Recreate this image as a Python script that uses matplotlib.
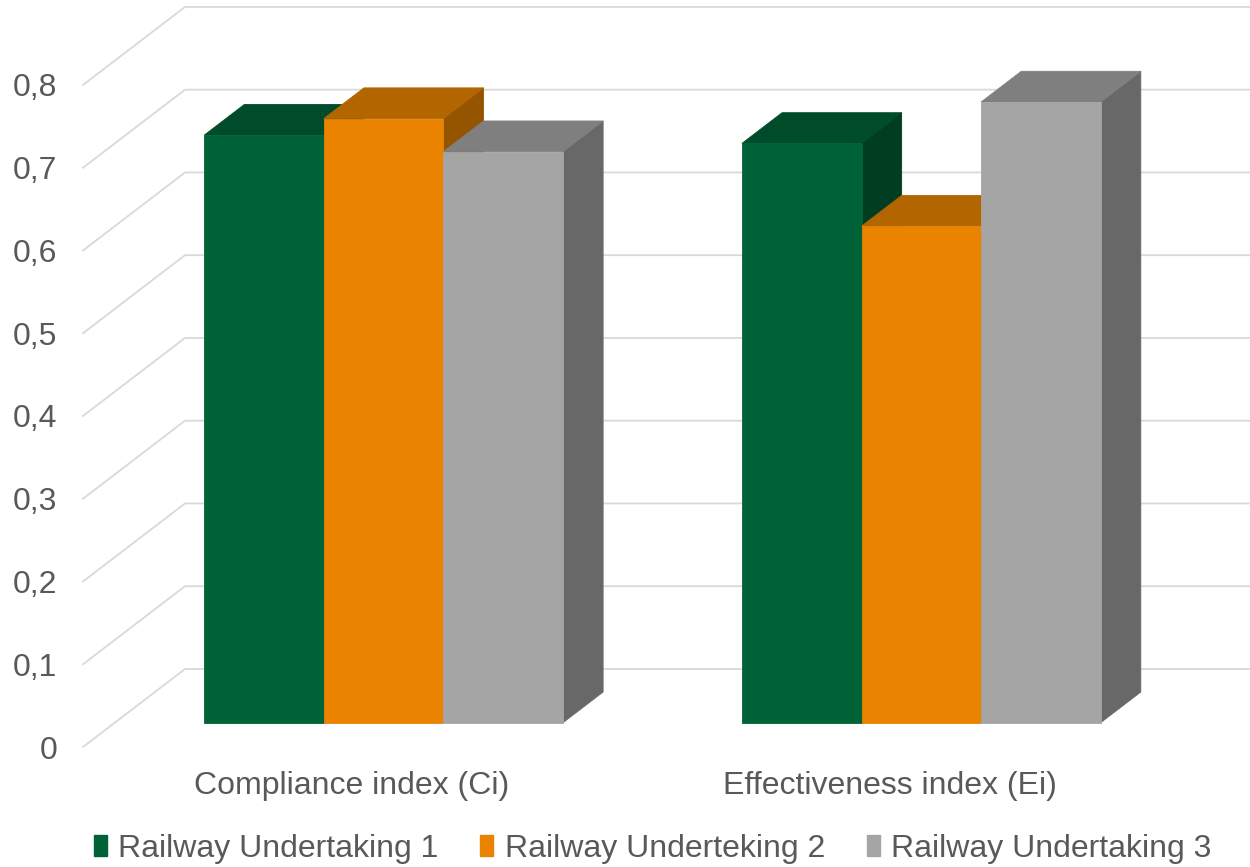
import matplotlib
matplotlib.use("Agg")
import matplotlib.pyplot as plt
from matplotlib.patches import Polygon, Patch

plt.rcParams["font.family"] = ["Liberation Sans", "DejaVu Sans"]

# data
categories = ["Compliance index (Ci)", "Effectiveness index (Ei)"]
series_names = ["Railway Undertaking 1", "Railway Underteking 2", "Railway Undertaking 3"]
ru1 = [0.71, 0.70]
ru2 = [0.73, 0.60]
ru3 = [0.69, 0.75]
y_ticks = [0, 0.1, 0.2, 0.3, 0.4, 0.5, 0.6, 0.7, 0.8]
y_labels = ["0", "0,1", "0,2", "0,3", "0,4", "0,5", "0,6", "0,7", "0,8"]

# colours per series: front, top, side
front_cols = ["#006338", "#E98300", "#A5A5A5"]
top_cols = ["#004C2A", "#B36500", "#7F7F7F"]
side_cols = ["#003D21", "#955400", "#686868"]
text_col = "#595959"
grid_col = "#D9D9D9"

# oblique "3d" projection settings (in data units)
DX = 0.1897   # depth shift along x for full depth
DY = 0.0943   # depth shift along y for full depth
D0, D1 = 0.3115, 0.705   # depth of bar front / back
BW = 0.2224   # bar width


def proj(x, v, d):
    return (x + d * DX, v + d * DY)


def draw_bar(ax, xc, h, k):
    xl, xr = xc - BW / 2, xc + BW / 2
    side = [proj(xr, 0, D0), proj(xr, 0, D1), proj(xr, h, D1), proj(xr, h, D0)]
    top = [proj(xl, h, D0), proj(xr, h, D0), proj(xr, h, D1), proj(xl, h, D1)]
    front = [proj(xl, 0, D0), proj(xr, 0, D0), proj(xr, h, D0), proj(xl, h, D0)]
    for pts, col in ((side, side_cols[k]), (top, top_cols[k]), (front, front_cols[k])):
        ax.add_patch(Polygon(pts, closed=True, facecolor=col, edgecolor=col,
                             linewidth=0.6, clip_on=False, zorder=3))


fig = plt.figure(figsize=(12.5, 8.67), dpi=100)
ax = fig.add_axes([0.0664, 0.1384, 0.8603, 0.7636])
ax.set_xlim(-0.5, 1.5)
ax.set_ylim(0, 0.8)

# gridlines: diagonal on the side wall, then flat along the back wall
for v in y_ticks:
    x0, y0 = proj(-0.5, v, 0)
    x1, y1 = proj(-0.5, v, 1)
    x2, y2 = proj(1.5, v, 1)
    ax.plot([x0, x1, x2], [y0, y1, y2], color=grid_col, linewidth=1.3,
            clip_on=False, zorder=1)

series = [ru1, ru2, ru3]
for i in range(len(categories)):
    for k, vals in enumerate(series):
        draw_bar(ax, i + (k - 1) * BW, vals[i], k)

ax.set_yticks(y_ticks, labels=y_labels)
ax.set_xticks(range(len(categories)), labels=categories)
ax.tick_params(axis="y", length=0, pad=18.5, labelsize=23, labelcolor=text_col)
ax.tick_params(axis="x", length=0, pad=17.5, labelsize=23, labelcolor=text_col)
for s in ax.spines.values():
    s.set_visible(False)
ax.patch.set_alpha(0)

handles = [Patch(facecolor=c, edgecolor=c) for c in front_cols]
fig.legend(handles, series_names, loc="center", bbox_to_anchor=(0.522, 0.021),
           ncol=3, frameon=False, fontsize=23, labelcolor=text_col,
           handlelength=0.42, handleheight=0.62, handletextpad=0.35,
           columnspacing=1.3)

plt.savefig("out.png", dpi=100)
